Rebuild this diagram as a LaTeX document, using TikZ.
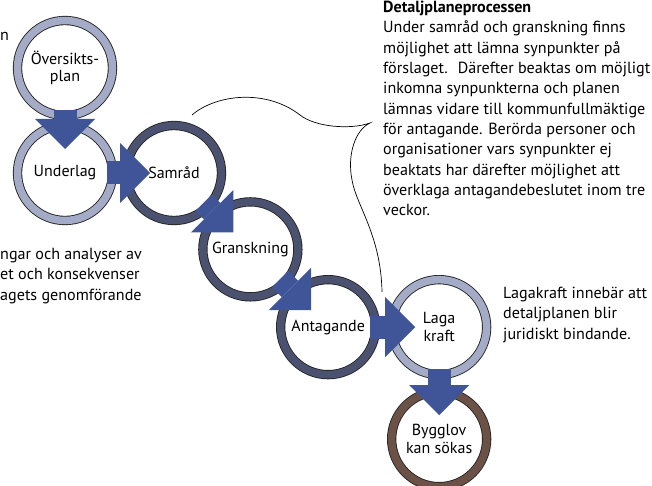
\documentclass[tikz,border=0pt]{standalone}
\usepackage{fontspec}
\setmainfont{PT Sans}
\usetikzlibrary{arrows.meta, positioning}

\definecolor{ringlight}{HTML}{A3ABC6}
\definecolor{ringdark}{HTML}{4A5270}
\definecolor{ringbrown}{HTML}{6C5246}
\definecolor{arrowblue}{HTML}{3F5597}

\tikzset{
  ring/.style={circle, draw=black!85, line width=0.9pt, double distance=7.5pt, fill=white, minimum size=95pt, inner sep=0pt, align=center, font=\fontsize{16}{17.5}\selectfont},
  lightring/.style={ring, double=ringlight},
  darkring/.style={ring, double=ringdark},
  brownring/.style={ring, double=ringbrown},
  blockarrow/.style={arrowblue, line width=23pt, shorten <=42pt, shorten >=24pt, -{Triangle[length=30pt, width=60pt, line width=0pt]}},
  note/.style={align=left, inner sep=0pt, font=\fontsize{16.1}{20.3}\selectfont}
}

\begin{document}
\begin{tikzpicture}[x=1pt, y=-1pt, node distance=105pt]
\useasboundingbox (0,0) rectangle (652,486);

\node (oversikt) [lightring] at (65,68) {Översikts-\\plan};
\node (underlag) [lightring, below of=oversikt] {Underlag};
\node (samrad) [darkring, right of=underlag, xshift=4pt] {Samråd};
\node (granskning) [darkring, below right of=samrad, node distance=108pt] {Granskning};
\node (antagande) [darkring, below right of=granskning, node distance=110pt] {Antagande};
\node (laga) [lightring, right of=antagande, xshift=6pt] {Laga\\kraft};
\node (bygglov) [brownring, below of=laga, node distance=112pt] {Bygglov\\kan sökas};

\draw[blockarrow] (oversikt.center) -- (underlag.center);
\draw[blockarrow] (underlag.center) -- (samrad.center);
\draw[blockarrow] (samrad.center) -- (granskning.center);
\draw[blockarrow] (granskning.center) -- (antagande.center);
\draw[blockarrow] (antagande.center) -- (laga.center);
\draw[blockarrow] (laga.center) -- (bygglov.center);

\draw[line width=0.7pt] (192,115) .. controls (215,95) and (265,88) .. (300,115)
  .. controls (315,127) and (350,130) .. (370,123)
  .. controls (355,130) and (347,155) .. (352,180)
  .. controls (356,205) and (381,235) .. (382,292);

\node (process) [note, anchor=north west] at (383,1) {\textbf{Detaljplaneprocessen}\\
Under samråd och granskning finns\\
möjlighet att lämna synpunkter på\\
förslaget.~ Därefter beaktas om möjligt\\
inkomna synpunkterna och planen\\
lämnas vidare till kommunfullmäktige\\
för antagande. Berörda personer och\\
organisationer vars synpunkter ej\\
beaktats har därefter möjlighet att\\
överklaga antagandebeslutet inom tre\\
veckor.};
\node (lagakraft) [note, anchor=north west] at (503,287) {Lagakraft innebär att\\detaljplanen blir\\juridiskt bindande.};
\node (underlagtext) [note, anchor=north west] at (0,248) {ngar och analyser av\\et och konsekvenser\\agets genomförande};
\node (planfrag) [note, anchor=west] at (0,36) {n};
\end{tikzpicture}
\end{document}
